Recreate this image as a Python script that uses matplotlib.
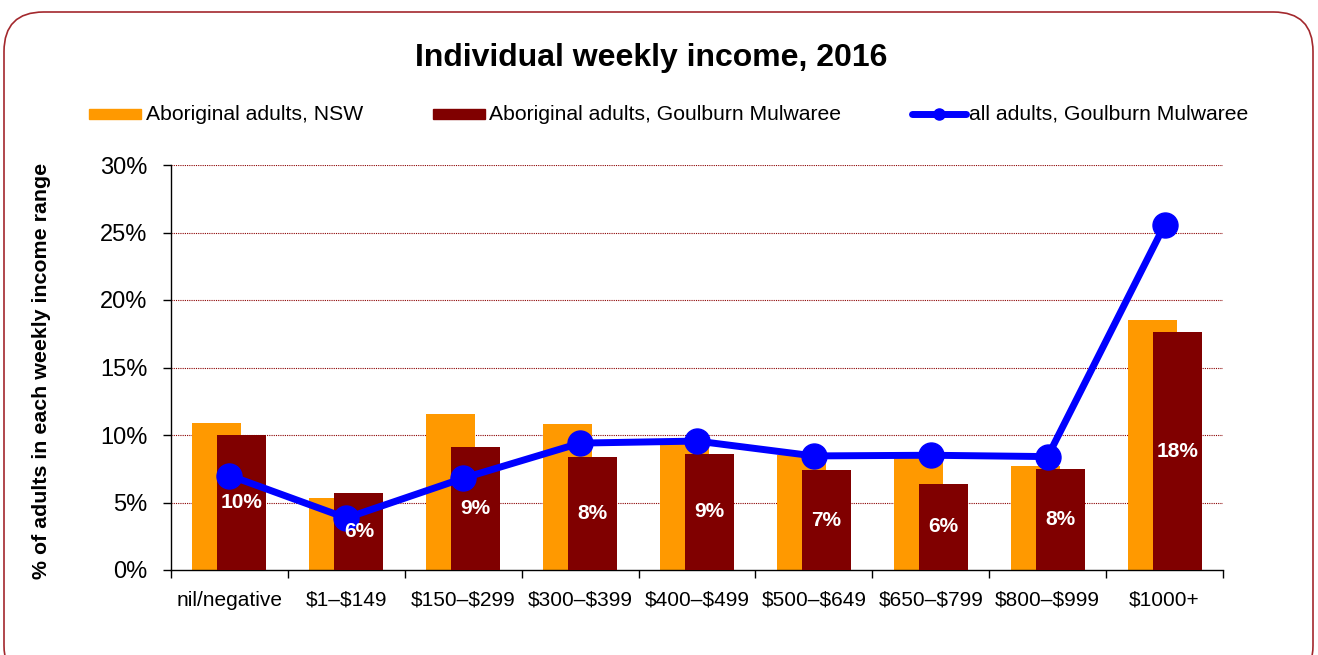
import matplotlib
matplotlib.use("Agg")
import matplotlib.pyplot as plt
from matplotlib.patches import FancyBboxPatch, Rectangle
from matplotlib.lines import Line2D
import numpy as np

plt.rcParams['font.family'] = ['Liberation Sans', 'DejaVu Sans']
plt.rcParams['text.parse_math'] = False

categories = ["nil/negative", "$1\u2013$149", "$150\u2013$299", "$300\u2013$399", "$400\u2013$499",
              "$500\u2013$649", "$650\u2013$799", "$800\u2013$999", "$1000+"]
nsw_aboriginal = [10.9, 5.3, 11.55, 10.85, 9.7, 8.5, 8.5, 7.7, 18.5]
gm_aboriginal = [10.0, 5.7, 9.1, 8.4, 8.6, 7.4, 6.4, 7.5, 17.6]
gm_all = [7.0, 3.85, 6.8, 9.4, 9.55, 8.45, 8.5, 8.4, 25.55]
yticks = [0, 5, 10, 15, 20, 25, 30]

ORANGE = '#FF9900'
DARKRED = '#800000'
BLUE = '#0000FF'
BORDER = '#A3282D'

fig = plt.figure(figsize=(13.18, 6.55), dpi=100)
ax = fig.add_axes([171/1318, 1-570/655, (1223-171)/1318, (570-165)/655])

x = np.arange(len(categories))
w = 0.42
off = 0.107
ax.bar(x - off, nsw_aboriginal, width=w, color=ORANGE, zorder=2)
ax.bar(x + off, gm_aboriginal, width=w, color=DARKRED, zorder=3)
ax.plot(x, gm_all, color=BLUE, lw=5, marker='o', markersize=18, zorder=4,
        solid_capstyle='round')

for xi, v in zip(x, gm_aboriginal):
    ax.text(xi + off, v / 2, f"{round(v):.0f}%", color='white', fontweight='bold',
            fontsize=15, ha='center', va='center', zorder=5)

ax.set_xlim(-0.5, len(categories) - 0.5)
ax.set_ylim(0, 30)
ax.set_yticks(yticks)
ax.set_yticklabels([f"{t}%" for t in yticks], fontsize=17)
ax.set_xticks(x)
ax.set_xticklabels(categories, fontsize=15)
ax.set_xticks(np.arange(-0.5, len(categories)), minor=True)
ax.tick_params(axis='x', which='major', length=0, pad=15)
ax.tick_params(axis='x', which='minor', length=6, direction='out', width=1)
ax.tick_params(axis='y', length=6, direction='out', width=1, pad=11)

for t in yticks[1:]:
    ax.axhline(t, color='#8B0000', lw=0.8, ls=(0, (1, 1)), zorder=1)

for s in ['top', 'right']:
    ax.spines[s].set_visible(False)
for s in ['left', 'bottom']:
    ax.spines[s].set_linewidth(1)
    ax.spines[s].set_color('black')

fig.text(42/1318, 1 - 371/655, "% of adults in each weekly income range", rotation=90,
         fontsize=15.4, fontweight='bold', ha='center', va='center')

fig.text(651/1318, 1 - 58/655, "Individual weekly income, 2016", fontsize=23,
         fontweight='bold', ha='center', va='center')

# legend (manual)
ly = 1 - 114/655
fig.patches.append(Rectangle((89/1318, 1 - 119/655), 52/1318, 10/655, transform=fig.transFigure,
                             color=ORANGE, figure=fig))
fig.text(146/1318, ly, "Aboriginal adults, NSW", fontsize=15.2, ha='left', va='center')
fig.patches.append(Rectangle((433/1318, 1 - 119/655), 52/1318, 10/655, transform=fig.transFigure,
                             color=DARKRED, figure=fig))
fig.text(489/1318, ly, "Aboriginal adults, Goulburn Mulwaree", fontsize=15.2, ha='left', va='center')
fig.lines.append(Line2D([912/1318, 966/1318], [ly, ly], transform=fig.transFigure, color=BLUE,
                        lw=5, solid_capstyle='round', figure=fig))
fig.lines.append(Line2D([939/1318], [ly], transform=fig.transFigure, color=BLUE, marker='o',
                        markersize=8, figure=fig))
fig.text(969/1318, ly, "all adults, Goulburn Mulwaree", fontsize=15.2, ha='left', va='center')

border = FancyBboxPatch((4/1318, -30/655), 1309/1318, (655 - 12 + 30)/655,
                        boxstyle="round,pad=0,rounding_size=0.03",
                        transform=fig.transFigure, fill=False, edgecolor=BORDER, lw=1.2,
                        figure=fig, mutation_aspect=1318/655)
fig.patches.append(border)

fig.savefig("out.png", dpi=100)
